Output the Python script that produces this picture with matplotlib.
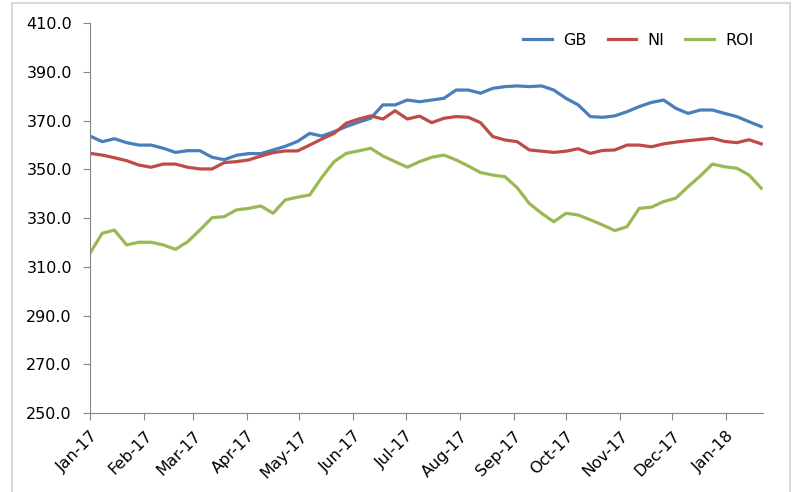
import matplotlib
matplotlib.use("Agg")
from matplotlib import pyplot as plt
import matplotlib.dates as mdates
from matplotlib.patches import Rectangle
from matplotlib.ticker import FormatStrFormatter
import pandas as pd

# weekly points, first week of Jan-17 to third week of Jan-18
weeks = pd.date_range("2017-01-01", periods=56, freq="7D")

gb = [363.7, 361.4, 362.6, 361.0, 360.0, 360.0, 358.7, 357.0, 357.7, 357.7,
      355.0, 354.0, 355.8, 356.5, 356.5, 358.0, 359.5, 361.5, 364.8, 363.7,
      365.5, 367.6, 369.4, 371.0, 376.5, 376.5, 378.5, 377.8, 378.5, 379.2,
      382.6, 382.6, 381.3, 383.3, 384.0, 384.3, 384.0, 384.3, 382.6, 379.2,
      376.5, 371.7, 371.4, 372.0, 373.7, 375.8, 377.5, 378.5, 375.1, 373.0,
      374.4, 374.4, 373.0, 371.7, 369.6, 367.6]

ni = [356.6, 355.9, 354.8, 353.6, 351.8, 350.9, 352.2, 352.2, 350.9, 350.2,
      350.2, 352.8, 353.2, 353.9, 355.5, 356.9, 357.6, 357.6, 360.0, 362.5,
      364.8, 369.0, 370.7, 372.0, 370.7, 374.1, 370.7, 371.9, 369.2, 371.0,
      371.7, 371.4, 369.2, 363.5, 362.1, 361.4, 358.0, 357.5, 357.0, 357.5,
      358.5, 356.6, 357.8, 358.0, 360.0, 360.0, 359.3, 360.5, 361.2, 361.8,
      362.3, 362.8, 361.5, 361.0, 362.2, 360.5]

roi = [315.6, 323.8, 325.1, 319.0, 320.1, 320.1, 319.0, 317.2, 320.3, 325.1,
       330.2, 330.6, 333.4, 334.0, 335.0, 332.0, 337.5, 338.6, 339.5, 346.8,
       353.2, 356.6, 357.6, 358.7, 355.5, 353.2, 350.9, 353.2, 355.0, 355.9,
       353.9, 351.4, 348.7, 347.7, 347.0, 342.5, 336.0, 332.0, 328.5, 332.0,
       331.3, 329.3, 327.2, 324.9, 326.5, 334.0, 334.5, 336.8, 338.2, 342.9,
       347.3, 352.2, 351.1, 350.5, 347.7, 342.3]

fig = plt.figure(figsize=(7.92, 4.92), dpi=100)
fig.patches.append(Rectangle((12 / 792, -0.01), 778 / 792, 1 - 3 / 492 + 0.01,
                             transform=fig.transFigure, fill=False,
                             edgecolor="#d9d9d9", linewidth=1.5))
ax = fig.add_axes([90 / 792, 1 - 413 / 492, 673 / 792, 389.7 / 492])

ax.plot(weeks, gb, color="#4a7ebb", lw=2.3, label="GB")
ax.plot(weeks, ni, color="#be4b48", lw=2.3, label="NI")
ax.plot(weeks, roi, color="#98b954", lw=2.3, label="ROI")

ax.set_ylim(250, 410)
ax.set_yticks(range(250, 411, 20))
ax.yaxis.set_major_formatter(FormatStrFormatter("%.1f"))
ax.set_xlim(pd.Timestamp("2017-01-01"), pd.Timestamp("2018-01-22"))
ax.xaxis.set_major_locator(mdates.MonthLocator())
ax.xaxis.set_major_formatter(mdates.DateFormatter("%b-%y"))

for s in ["top", "right"]:
    ax.spines[s].set_visible(False)
for s in ["left", "bottom"]:
    ax.spines[s].set_color("#868686")
ax.tick_params(axis="both", colors="#868686", length=5, labelcolor="black",
               labelsize=11.5)
ax.tick_params(axis="y", pad=8)
ax.tick_params(axis="x", pad=6)
for lbl in ax.get_xticklabels():
    lbl.set_rotation(45)
    lbl.set_ha("right")
    lbl.set_rotation_mode("anchor")

ax.legend(loc="upper right", ncol=3, frameon=False, fontsize=11.5,
          handlelength=1.8, handletextpad=0.7, columnspacing=1.3,
          borderaxespad=0.2, bbox_to_anchor=(1.0, 1.0))

fig.savefig("out.png", dpi=100)
